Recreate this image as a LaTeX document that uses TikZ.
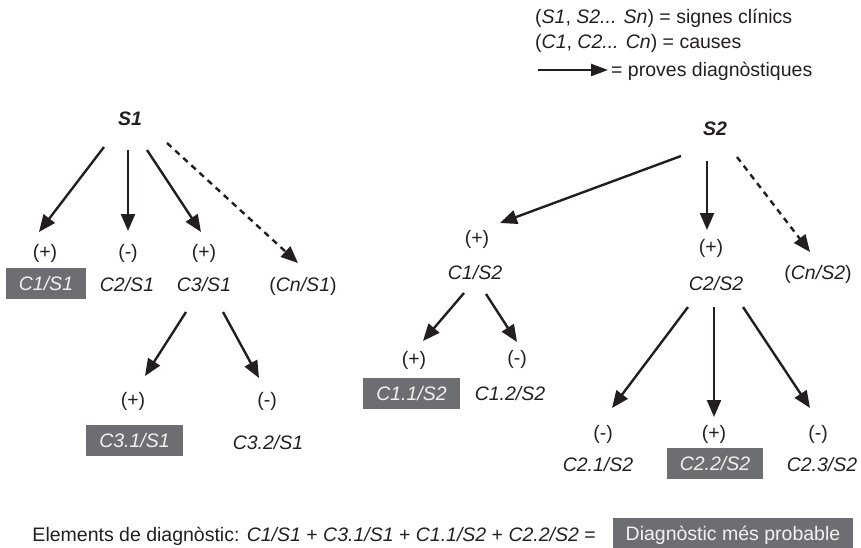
\documentclass[tikz,border=0pt]{standalone}
\usepackage{fontspec}
\setmainfont{Liberation Sans}
\usetikzlibrary{arrows.meta,calc}
\definecolor{ink}{HTML}{231F20}
\definecolor{boxgrey}{HTML}{6D6E71}
\definecolor{boxtext}{HTML}{F2F2F2}
\newcommand\myfs{\fontsize{19.5}{23}\selectfont}
\begin{document}
\begin{tikzpicture}[x=1pt,y=-1pt,
  txt/.style={text=ink, font=\myfs, inner sep=0pt, text height=14pt, text depth=0pt},
  lab/.style={txt, font=\myfs\itshape},
  hl/.style={lab, fill=boxgrey, text=boxtext, minimum height=31pt, inner xsep=13pt},
  sym/.style={txt, font=\myfs\bfseries\itshape},
  arr/.style={draw=ink, line width=2.4pt, -{Triangle[length=17pt,width=14pt]}},
  darr/.style={arr, dash pattern=on 6pt off 5pt},
]
\path[use as bounding box] (0,0) rectangle (861,548);

% legend
\node[txt, anchor=west] (lg1) at (535,17) {(\textit{S1}, \textit{S2... Sn}) = signes clínics};
\node[txt, anchor=west] (lg2) at (535,42) {(\textit{C1}, \textit{C2... Cn}) = causes};
\node[txt, anchor=west] (lg3) at (611,70) {= proves diagnòstiques};
\coordinate (lgA) at (538,70);
\draw[draw=ink, line width=2.4pt, -{Triangle[length=17pt,width=12pt]}] (lgA) -- ($(lg3.west)+(-3,0)$);

% left tree
\node[sym] (S1) at (130,119) {S1};
\node[txt] (s11) at (45,251) {(+)};
\node[txt] (s12) at (128,251) {(-)};
\node[txt] (s13) at (204,251) {(+)};
\node[hl]  (C1S1) at (46,283.5) {C1/S1};
\node[lab] (C2S1) at (127,284) {C2/S1};
\node[lab] (C3S1) at (204,284) {C3/S1};
\node[txt] (CnS1) at (303,284) {(\textit{Cn/S1})};
\node[txt] (s131) at (133,399) {(+)};
\node[txt] (s132) at (267,399) {(-)};
\node[hl]  (C31S1) at (134.5,440) {C3.1/S1};
\node[lab] (C32S1) at (268,442) {C3.2/S1};

\draw[arr] ($(S1)+(-26,28)$) -- ($(s11)+(-6,-19)$);
\draw[arr] ($(S1)+(-2,31)$) -- ($(s12)+(0,-20)$);
\draw[arr] ($(S1)+(17,31)$) -- ($(s13)+(-3,-19)$);
\draw[darr] ($(S1)+(37,24)$) -- ($(CnS1)+(-5,-21)$);
\draw[arr] ($(C3S1)+(-18,28)$) -- ($(s131)+(12,-23)$);
\draw[arr] ($(C3S1)+(19,28)$) -- ($(s132)+(-8,-21)$);

% right tree
\node[sym] (S2) at (715,129) {S2};
\node[txt] (s21) at (477,237) {(+)};
\node[lab] (C1S2) at (475,272) {C1/S2};
\node[txt] (s22) at (711,246) {(+)};
\node[lab] (C2S2) at (716,283) {C2/S2};
\node[txt] (CnS2) at (818,272) {(\textit{Cn/S2})};
\node[txt] (s211) at (414,358) {(+)};
\node[txt] (s212) at (517,357) {(-)};
\node[hl]  (C11S2) at (411.5,393) {C1.1/S2};
\node[lab] (C12S2) at (510,393) {C1.2/S2};
\node[txt] (s221) at (603,432) {(-)};
\node[txt] (s222) at (714,432) {(+)};
\node[txt] (s223) at (818,432) {(-)};
\node[lab] (C21S2) at (598,464) {C2.1/S2};
\node[hl]  (C22S2) at (715,463.5) {C2.2/S2};
\node[lab] (C23S2) at (822,464) {C2.3/S2};

\draw[arr] ($(S2)+(-34,27)$) -- ($(s21)+(23,-14)$);
\draw[arr] ($(S2)+(-8,32)$) -- ($(s22)+(-4,-16)$);
\draw[darr] ($(S2)+(22,28)$) -- ($(CnS2)+(-8,-20)$);
\draw[arr] ($(C1S2)+(-11,21)$) -- ($(s211)+(9,-17)$);
\draw[arr] ($(C1S2)+(11,22)$) -- ($(s212)+(0,-15)$);
\draw[arr] ($(C2S2)+(-28,24)$) -- ($(s221)+(9,-24)$);
\draw[arr] ($(C2S2)+(-2,24)$) -- ($(s222)+(0,-15)$);
\draw[arr] ($(C2S2)+(27,24)$) -- ($(s223)+(-8,-24)$);

% bottom line
\node[txt, anchor=east] (elem) at (596,534) {Elements de diagnòstic: \textit{C1/S1} + \textit{C3.1/S1} + \textit{C1.1/S2} + \textit{C2.2/S2} =};
\node[txt, fill=boxgrey, text=boxtext, minimum width=240pt, minimum height=30pt] (diag) at (733,533) {Diagnòstic més probable};
\end{tikzpicture}
\end{document}
